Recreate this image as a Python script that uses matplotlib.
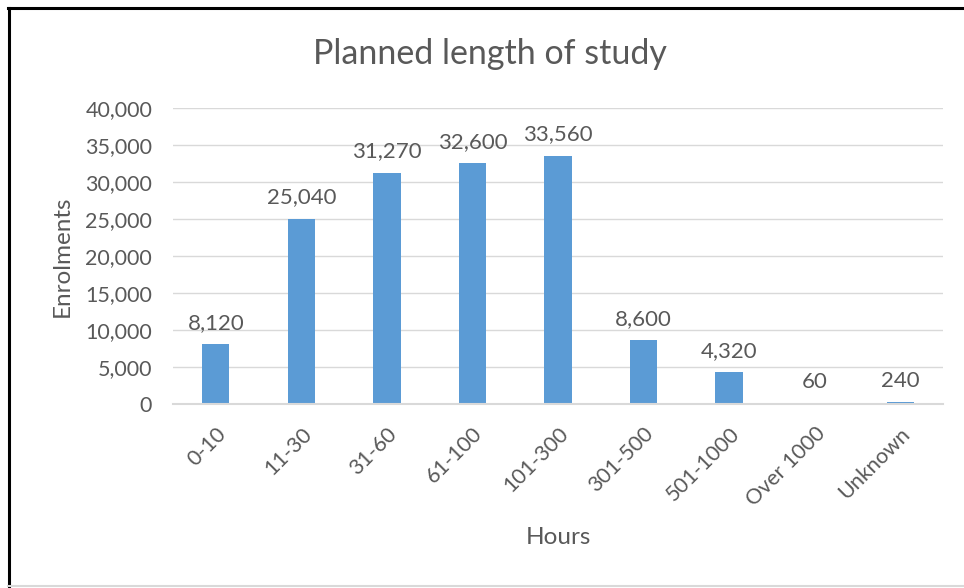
import matplotlib
matplotlib.use("Agg")
import matplotlib.pyplot as plt
from matplotlib.lines import Line2D
from matplotlib.ticker import FuncFormatter, MultipleLocator

# Planned study length buckets and enrolment counts
categories = ["0-10", "11-30", "31-60", "61-100", "101-300", "301-500",
              "501-1000", "Over 1000", "Unknown"]
enrolments = [8120, 25040, 31270, 32600, 33560, 8600, 4320, 60, 240]

TEXT = "#595959"
BAR = "#5B9BD5"
GRID = "#D9D9D9"

plt.rcParams["font.family"] = ["Lato", "DejaVu Sans"]

W, H = 964, 588
fig = plt.figure(figsize=(W / 100, H / 100), dpi=100)
ax = fig.add_axes([173 / W, 1 - 404 / H, 770 / W, 296 / H])

x = range(len(categories))
ax.bar(x, enrolments, width=0.32, color=BAR, zorder=2)

for xi, v in zip(x, enrolments):
    ax.annotate(f"{v:,}", (xi, v), xytext=(0, 8), textcoords="offset points",
                ha="center", va="bottom", fontsize=16, color=TEXT)

ax.set_xlim(-0.5, len(categories) - 0.5)
ax.set_ylim(0, 40000)
ax.yaxis.set_major_locator(MultipleLocator(5000))
ax.yaxis.set_major_formatter(FuncFormatter(lambda v, p: f"{int(v):,}"))
ax.grid(axis="y", color=GRID, linewidth=1, zorder=0)

ax.set_xticks(list(x))
ax.set_xticklabels(categories, rotation=45, ha="right", rotation_mode="anchor")
ax.tick_params(axis="both", length=0, labelsize=15.5, labelcolor=TEXT)
ax.tick_params(axis="x", pad=14)
ax.tick_params(axis="y", pad=15)

for side in ["top", "right", "left"]:
    ax.spines[side].set_visible(False)
ax.spines["bottom"].set_color(GRID)
ax.spines["bottom"].set_linewidth(1.5)
ax.spines["bottom"].set_zorder(3)

ax.set_ylabel("Enrolments", fontsize=17.5, color=TEXT)
ax.yaxis.set_label_coords((73 - 173) / 770, 0.5)
ax.set_xlabel("Hours", fontsize=17.5, color=TEXT)
ax.xaxis.set_label_coords(0.5, (404 - 527) / 296)

fig.text(490 / W, 1 - 54 / H, "Planned length of study", ha="center",
         va="center", fontsize=24.5, color=TEXT)

# Chart frame: dark left and top edges, light bottom edge
fig.add_artist(Line2D([8.5 / W, 8.5 / W], [1 - 8 / H, 0], transform=fig.transFigure,
                      color="black", linewidth=2.2))
fig.add_artist(Line2D([8 / W, 1], [1 - 8 / H, 1 - 8 / H], transform=fig.transFigure,
                      color="black", linewidth=2.2))
fig.add_artist(Line2D([8 / W, 1], [1 - 586 / H, 1 - 586 / H], transform=fig.transFigure,
                      color=GRID, linewidth=1.5))

fig.savefig("out.png", dpi=100)
